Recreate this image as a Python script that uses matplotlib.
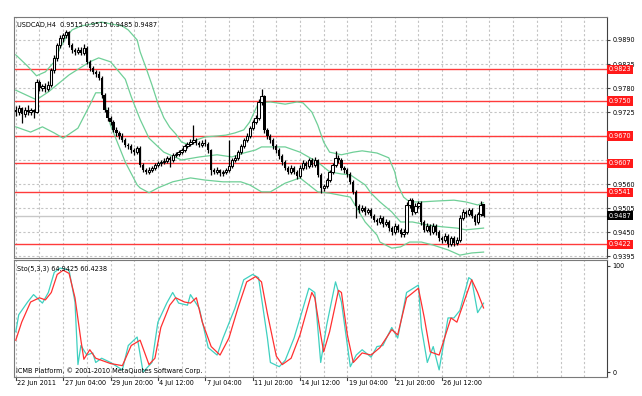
import matplotlib
matplotlib.use('Agg')
import matplotlib.pyplot as plt
import numpy as np

# USDCAD H4 candles, one entry per bar
opens = [
    0.9730, 0.9725, 0.9734, 0.9720, 0.9730, 0.9725, 0.9730, 0.9725, 0.9794, 0.9780,
    0.9785, 0.9778, 0.9787, 0.9821, 0.9849, 0.9879, 0.9895, 0.9901, 0.9908, 0.9879,
    0.9867, 0.9863, 0.9867, 0.9860, 0.9872, 0.9840, 0.9826, 0.9817, 0.9812, 0.9803,
    0.9764, 0.9730, 0.9711, 0.9702, 0.9684, 0.9677, 0.9670, 0.9661, 0.9649, 0.9647,
    0.9638, 0.9633, 0.9643, 0.9604, 0.9592, 0.9588, 0.9592, 0.9597, 0.9604, 0.9608,
    0.9610, 0.9613, 0.9620, 0.9615, 0.9627, 0.9629, 0.9633, 0.9638, 0.9647, 0.9652,
    0.9657, 0.9661, 0.9654, 0.9649, 0.9654, 0.9652, 0.9638, 0.9592, 0.9588, 0.9592,
    0.9585, 0.9588, 0.9592, 0.9601, 0.9615, 0.9620, 0.9633, 0.9647, 0.9661, 0.9670,
    0.9688, 0.9702, 0.9711, 0.9748, 0.9762, 0.9684, 0.9670, 0.9661, 0.9647, 0.9638,
    0.9624, 0.9610, 0.9597, 0.9588, 0.9597, 0.9588, 0.9578, 0.9597, 0.9608, 0.9601,
    0.9615, 0.9604, 0.9615, 0.9581, 0.9551, 0.9555, 0.9569, 0.9588, 0.9604, 0.9620,
    0.9615, 0.9597, 0.9592, 0.9583, 0.9565, 0.9542, 0.9510, 0.9500, 0.9505, 0.9496,
    0.9500, 0.9487, 0.9478, 0.9473, 0.9482, 0.9468, 0.9473, 0.9459, 0.9450, 0.9464,
    0.9455, 0.9445, 0.9450, 0.9512, 0.9523, 0.9496, 0.9510, 0.9517, 0.9473, 0.9455,
    0.9464, 0.9450, 0.9464, 0.9450, 0.9436, 0.9432, 0.9441, 0.9422, 0.9436, 0.9425,
    0.9432, 0.9482, 0.9496, 0.9491, 0.9500, 0.9487, 0.9473, 0.9491, 0.9515,
]
highs = [
    0.9738, 0.9741, 0.9737, 0.9736, 0.9740, 0.9735, 0.9733, 0.9800, 0.9798, 0.9790,
    0.9792, 0.9795, 0.9826, 0.9855, 0.9884, 0.9902, 0.9906, 0.9912, 0.9911, 0.9884,
    0.9872, 0.9873, 0.9875, 0.9880, 0.9876, 0.9845, 0.9830, 0.9822, 0.9818, 0.9807,
    0.9768, 0.9736, 0.9716, 0.9707, 0.9690, 0.9681, 0.9676, 0.9665, 0.9654, 0.9651,
    0.9642, 0.9648, 0.9646, 0.9608, 0.9597, 0.9598, 0.9602, 0.9609, 0.9612, 0.9615,
    0.9619, 0.9625, 0.9624, 0.9632, 0.9634, 0.9638, 0.9643, 0.9652, 0.9657, 0.9663,
    0.9695, 0.9666, 0.9659, 0.9660, 0.9664, 0.9656, 0.9641, 0.9597, 0.9598, 0.9595,
    0.9593, 0.9597, 0.9661, 0.9620, 0.9626, 0.9638, 0.9652, 0.9666, 0.9676, 0.9693,
    0.9707, 0.9717, 0.9754, 0.9777, 0.9765, 0.9689, 0.9675, 0.9666, 0.9652, 0.9642,
    0.9629, 0.9614, 0.9601, 0.9603, 0.9602, 0.9592, 0.9603, 0.9614, 0.9612, 0.9620,
    0.9619, 0.9622, 0.9618, 0.9585, 0.9561, 0.9574, 0.9593, 0.9609, 0.9636, 0.9626,
    0.9619, 0.9602, 0.9596, 0.9587, 0.9569, 0.9546, 0.9514, 0.9511, 0.9509, 0.9506,
    0.9504, 0.9492, 0.9483, 0.9488, 0.9486, 0.9479, 0.9477, 0.9464, 0.9470, 0.9468,
    0.9459, 0.9456, 0.9518, 0.9528, 0.9527, 0.9516, 0.9522, 0.9520, 0.9477, 0.9470,
    0.9468, 0.9471, 0.9468, 0.9454, 0.9441, 0.9447, 0.9445, 0.9442, 0.9440, 0.9438,
    0.9488, 0.9502, 0.9500, 0.9506, 0.9504, 0.9491, 0.9497, 0.9520, 0.9515,
]
lows = [
    0.9716, 0.9718, 0.9700, 0.9714, 0.9719, 0.9718, 0.9712, 0.9722, 0.9774, 0.9772,
    0.9770, 0.9772, 0.9782, 0.9815, 0.9843, 0.9872, 0.9886, 0.9894, 0.9874, 0.9861,
    0.9856, 0.9858, 0.9855, 0.9855, 0.9835, 0.9820, 0.9811, 0.9805, 0.9798, 0.9758,
    0.9724, 0.9704, 0.9696, 0.9679, 0.9671, 0.9664, 0.9656, 0.9644, 0.9640, 0.9632,
    0.9627, 0.9628, 0.9599, 0.9587, 0.9583, 0.9584, 0.9588, 0.9593, 0.9600, 0.9602,
    0.9605, 0.9608, 0.9600, 0.9611, 0.9622, 0.9624, 0.9628, 0.9633, 0.9642, 0.9647,
    0.9652, 0.9649, 0.9644, 0.9645, 0.9646, 0.9632, 0.9580, 0.9582, 0.9584, 0.9579,
    0.9578, 0.9583, 0.9587, 0.9596, 0.9610, 0.9615, 0.9628, 0.9642, 0.9656, 0.9665,
    0.9683, 0.9697, 0.9706, 0.9740, 0.9678, 0.9664, 0.9655, 0.9641, 0.9632, 0.9618,
    0.9604, 0.9591, 0.9582, 0.9583, 0.9582, 0.9571, 0.9574, 0.9592, 0.9595, 0.9596,
    0.9598, 0.9599, 0.9575, 0.9540, 0.9545, 0.9550, 0.9564, 0.9583, 0.9599, 0.9609,
    0.9591, 0.9586, 0.9577, 0.9559, 0.9536, 0.9482, 0.9494, 0.9495, 0.9490, 0.9491,
    0.9481, 0.9472, 0.9467, 0.9468, 0.9462, 0.9463, 0.9453, 0.9444, 0.9446, 0.9449,
    0.9439, 0.9439, 0.9446, 0.9506, 0.9490, 0.9491, 0.9504, 0.9467, 0.9449, 0.9450,
    0.9444, 0.9446, 0.9443, 0.9430, 0.9425, 0.9427, 0.9415, 0.9417, 0.9419, 0.9420,
    0.9428, 0.9477, 0.9485, 0.9486, 0.9481, 0.9466, 0.9468, 0.9487, 0.9485,
]
closes = [
    0.9725, 0.9734, 0.9720, 0.9730, 0.9725, 0.9730, 0.9725, 0.9794, 0.9780, 0.9785,
    0.9778, 0.9787, 0.9821, 0.9849, 0.9879, 0.9895, 0.9901, 0.9908, 0.9879, 0.9867,
    0.9863, 0.9867, 0.9860, 0.9872, 0.9840, 0.9826, 0.9817, 0.9812, 0.9803, 0.9764,
    0.9730, 0.9711, 0.9702, 0.9684, 0.9677, 0.9670, 0.9661, 0.9649, 0.9647, 0.9638,
    0.9633, 0.9643, 0.9604, 0.9592, 0.9588, 0.9592, 0.9597, 0.9604, 0.9608, 0.9610,
    0.9613, 0.9620, 0.9615, 0.9627, 0.9629, 0.9633, 0.9638, 0.9647, 0.9652, 0.9657,
    0.9661, 0.9654, 0.9649, 0.9654, 0.9652, 0.9638, 0.9592, 0.9588, 0.9592, 0.9585,
    0.9588, 0.9592, 0.9601, 0.9615, 0.9620, 0.9633, 0.9647, 0.9661, 0.9670, 0.9688,
    0.9702, 0.9711, 0.9748, 0.9762, 0.9684, 0.9670, 0.9661, 0.9647, 0.9638, 0.9624,
    0.9610, 0.9597, 0.9588, 0.9597, 0.9588, 0.9578, 0.9597, 0.9608, 0.9601, 0.9615,
    0.9604, 0.9615, 0.9581, 0.9551, 0.9555, 0.9569, 0.9588, 0.9604, 0.9620, 0.9615,
    0.9597, 0.9592, 0.9583, 0.9565, 0.9542, 0.9510, 0.9500, 0.9505, 0.9496, 0.9500,
    0.9487, 0.9478, 0.9473, 0.9482, 0.9468, 0.9473, 0.9459, 0.9450, 0.9464, 0.9455,
    0.9445, 0.9450, 0.9512, 0.9523, 0.9496, 0.9510, 0.9517, 0.9473, 0.9455, 0.9464,
    0.9450, 0.9464, 0.9450, 0.9436, 0.9432, 0.9441, 0.9422, 0.9436, 0.9425, 0.9432,
    0.9482, 0.9496, 0.9491, 0.9500, 0.9487, 0.9473, 0.9491, 0.9512, 0.9487,
]

# Bollinger bands, sampled at bar numbers
upper_bars = [0, 4, 7, 10, 13, 15, 17, 19, 22, 26, 29, 32, 36, 38, 41, 42, 44, 46, 48, 50,
              52, 54, 56, 59, 61, 64, 68, 71, 74, 77, 79, 82, 86, 91, 95, 97, 100, 102, 104, 106,
              110, 114, 117, 122, 126, 128, 129, 131, 133, 137, 142, 148, 152, 156, 158]
upper_band = [0.9856, 0.9830, 0.9808, 0.9817, 0.9840, 0.9872, 0.9897, 0.9913, 0.9922, 0.9927,
              0.9931, 0.9927, 0.9922, 0.9913, 0.9890, 0.9863, 0.9826, 0.9787, 0.9745, 0.9712,
              0.9690, 0.9675, 0.9656, 0.9649, 0.9661, 0.9668, 0.9670, 0.9672, 0.9677, 0.9684,
              0.9702, 0.9746, 0.9748, 0.9743, 0.9748, 0.9746, 0.9725, 0.9695, 0.9656, 0.9633,
              0.9627, 0.9633, 0.9636, 0.9631, 0.9620, 0.9588, 0.9558, 0.9530, 0.9519, 0.9519,
              0.9521, 0.9523, 0.9519, 0.9512, 0.9517]
middle_bars = [0, 7, 11, 18, 25, 28, 32, 37, 39, 42, 45, 50, 56, 62, 68, 73, 77, 81, 83, 86,
               91, 96, 102, 106, 110, 113, 118, 120, 123, 127, 130, 134, 139, 144, 149, 152, 158]
middle_band = [0.9775, 0.9753, 0.9771, 0.9810, 0.9840, 0.9849, 0.9840, 0.9800, 0.9760, 0.9708,
               0.9665, 0.9633, 0.9615, 0.9622, 0.9627, 0.9622, 0.9631, 0.9638, 0.9645, 0.9645,
               0.9645, 0.9633, 0.9610, 0.9588, 0.9583, 0.9581, 0.9558, 0.9539, 0.9519, 0.9496,
               0.9473, 0.9473, 0.9466, 0.9462, 0.9459, 0.9455, 0.9459]
lower_bars = [0, 5, 9, 13, 16, 21, 25, 27, 29, 32, 37, 41, 42, 45, 48, 53, 59, 64, 70, 76,
              79, 83, 86, 91, 96, 102, 106, 113, 118, 122, 123, 127, 130, 133, 137, 141, 146, 150, 154, 158]
lower_band = [0.9691, 0.9679, 0.9691, 0.9677, 0.9665, 0.9688, 0.9741, 0.9769, 0.9769, 0.9695,
              0.9610, 0.9558, 0.9551, 0.9540, 0.9551, 0.9565, 0.9574, 0.9569, 0.9565, 0.9565,
              0.9558, 0.9542, 0.9542, 0.9562, 0.9574, 0.9542, 0.9539, 0.9530, 0.9473, 0.9443,
              0.9427, 0.9413, 0.9416, 0.9427, 0.9427, 0.9420, 0.9409, 0.9397, 0.9402, 0.9404]

# Stochastic(5,3,3): main and signal lines, sampled at bar numbers
k_bars = [0, 1, 4, 6, 9, 11, 13, 15, 18, 20, 21, 22, 24, 26, 27, 29, 32, 36, 38, 41,
          43, 46, 48, 51, 53, 55, 58, 59, 62, 65, 68, 70, 74, 77, 80, 82, 85, 86, 89, 91,
          94, 97, 99, 101, 103, 105, 108, 110, 113, 115, 117, 120, 122, 124, 127, 129, 132, 136, 137, 139,
          141, 143, 146, 148, 150, 153, 154, 156, 158]
k_values = [38, 54, 66, 73, 65, 75, 94, 98, 96, 66, 7, 25, 16, 18, 9, 13, 9, 2, 25, 33,
            0, 9, 47, 65, 75, 65, 63, 73, 60, 23, 16, 32, 60, 87, 92, 89, 32, 9, 5, 11,
            32, 60, 79, 75, 9, 44, 85, 66, 5, 16, 21, 14, 24, 25, 42, 32, 75, 82, 42, 9,
            24, 2, 51, 51, 58, 89, 87, 56, 64.94]
d_bars = [0, 2, 5, 8, 10, 12, 14, 16, 18, 20, 22, 23, 25, 27, 29, 32, 36, 39, 42, 45,
          47, 49, 52, 54, 57, 59, 61, 63, 66, 69, 72, 75, 78, 81, 83, 85, 88, 90, 93, 96,
          100, 101, 103, 104, 106, 109, 110, 112, 114, 117, 120, 123, 127, 129, 132, 136, 138, 140, 143, 147,
          149, 154, 156, 158]
d_values = [30, 47, 66, 70, 68, 75, 92, 96, 93, 70, 30, 12, 21, 13, 11, 8, 6, 25, 30, 7,
            13, 42, 63, 70, 66, 65, 70, 47, 24, 16, 32, 60, 85, 90, 85, 55, 15, 7, 13, 35,
            75, 70, 35, 19, 38, 77, 75, 35, 9, 18, 16, 23, 40, 35, 70, 79, 51, 19, 16, 51,
            47, 87, 75, 60.42]

# horizontal lines and axis labels
level_prices = [0.9823, 0.9750, 0.9670, 0.9607, 0.9541, 0.9422]
last_price = 0.9487
price_ticks = [0.9395, 0.9450, 0.9505, 0.9560, 0.9615, 0.9670, 0.9725, 0.9780, 0.9835, 0.9890]
hidden_ticks = [0.9615, 0.9670]   # covered by the level boxes
date_labels = ['22 Jun 2011', '27 Jun 04:00', '29 Jun 20:00', '4 Jul 12:00', '7 Jul 04:00',
               '11 Jul 20:00', '14 Jul 12:00', '19 Jul 04:00', '21 Jul 20:00', '26 Jul 12:00']
date_bars = [0, 16, 32, 48, 64, 80, 96, 112, 128, 144]

W, H = 642, 396
FS = 4.7
FRAME = '#7a7a7a'
GRID = '#c4c4c4'
GREEN = '#6fcf97'


def panel(fig, left, top, right, bottom):
    ''' add an axes given in pixel edges '''
    return fig.add_axes([left / W, 1 - bottom / H, (right - left) / W, (bottom - top) / H])


def style(ax):
    for side in ['left', 'top', 'bottom']:
        ax.spines[side].set_color(FRAME)
    ax.spines['right'].set_color('#404040')
    ax.set_xlim(-0.6, 199.7)
    ax.set_xticks(range(0, 200, 8))
    ax.tick_params(axis='x', length=0, labelbottom=False)
    ax.grid(True, axis='x', color=GRID, linestyle=(0, (2, 2)), lw=0.8)
    ax.yaxis.tick_right()
    ax.set_axisbelow(True)


fig = plt.figure(figsize=(W / 100, H / 100), dpi=100)
fig.patch.set_facecolor('white')

ax = panel(fig, 14, 17, 607, 257.5)
ax2 = panel(fig, 14, 259.5, 607, 377)
style(ax)
style(ax2)

# main price panel
ax.set_ylim(0.93916, 0.99427)
ax.set_yticks(price_ticks)
ax.set_yticklabels(['' if p in hidden_ticks else '%.4f' % p for p in price_ticks])
ax.tick_params(axis='y', length=2.5, width=0.8, color='#404040', labelsize=FS, pad=1.5)
ax.grid(True, axis='y', color=GRID, linestyle=(0, (2, 2)), lw=0.8)

for p in level_prices:
    ax.axhline(p, color='#ff3b3b', lw=1.0, zorder=2)
ax.axhline(last_price, color='#c8c8c8', lw=1.0, zorder=1.5)

ax.plot(upper_bars, upper_band, color=GREEN, lw=0.9, zorder=2.5)
ax.plot(middle_bars, middle_band, color=GREEN, lw=0.9, zorder=2.5)
ax.plot(lower_bars, lower_band, color=GREEN, lw=0.9, zorder=2.5)

o = np.array(opens)
c = np.array(closes)
idx = np.arange(len(c))
up = c >= o
ax.vlines(idx, lows, highs, color='black', lw=0.9, zorder=3)
ax.bar(idx[up], np.maximum(c - o, 0.00005)[up], bottom=o[up], width=0.75,
       facecolor='white', edgecolor='black', lw=0.75, zorder=4)
ax.bar(idx[~up], (o - c)[~up], bottom=c[~up], width=0.75, color='black', lw=0, zorder=4)

ytr = ax.get_yaxis_transform()
for p in level_prices:
    ax.text(1.0035, p, '%.4f' % p, transform=ytr, fontsize=FS, color='white', va='center', ha='left',
            bbox=dict(boxstyle='square,pad=0.25', fc='#ff1a1a', ec='none'), clip_on=False, zorder=10)
ax.text(1.0035, last_price, '%.4f' % last_price, transform=ytr, fontsize=FS, color='white', va='center',
        ha='left', bbox=dict(boxstyle='square,pad=0.25', fc='black', ec='none'), clip_on=False, zorder=10)

ax.text(0.005, 0.967, 'USDCAD,H4  %.4f %.4f %.4f %.4f' % (opens[-1], highs[-1], lows[-1], closes[-1]),
        transform=ax.transAxes, fontsize=FS, va='center', ha='left')

# stochastic panel
ax2.set_ylim(-4.7, 106.1)
ax2.set_yticks([0, 100])
ax2.set_yticklabels(['0', '100'])
ax2.tick_params(axis='y', length=2.5, width=0.8, color='#404040', labelsize=FS, pad=1.5)
ax2.plot(k_bars, k_values, color='#3fd0c0', lw=0.9, zorder=3)
ax2.plot(d_bars, d_values, color='#ff3030', lw=0.9, zorder=3)
ax2.text(0.005, 0.925, 'Sto(5,3,3) %.4f %.4f' % (64.9425, 60.4238), transform=ax2.transAxes,
         fontsize=FS, va='center', ha='left')
ax2.text(0.004, 0.05, 'ICMB Platform, \u00a9 2001-2010 MetaQuotes Software Corp.', transform=ax2.transAxes,
         fontsize=FS, va='center', ha='left')

for b, lab in zip(date_bars, date_labels):
    ax2.annotate(lab, xy=(b, 0), xycoords=('data', 'axes fraction'), xytext=(1.0, -4.6),
                 textcoords='offset points', fontsize=FS, ha='left', va='center', annotation_clip=False)
    ax2.plot([b, b], [0, -0.025], transform=ax2.get_xaxis_transform(), color='#404040',
             lw=0.8, clip_on=False)

fig.savefig('out.png', dpi=100, facecolor='white')
